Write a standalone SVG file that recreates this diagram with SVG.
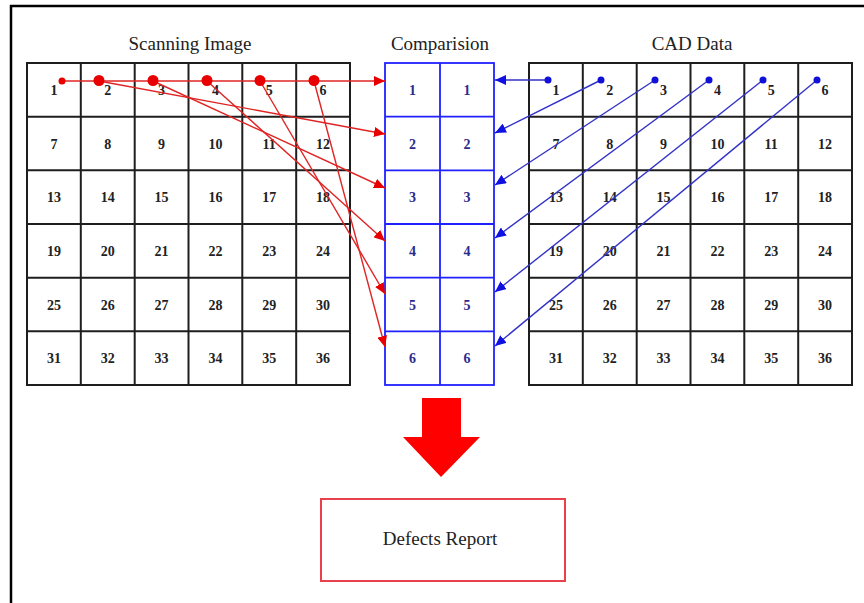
<svg xmlns="http://www.w3.org/2000/svg" width="864" height="603" viewBox="0 0 864 603">
  <style>
    .title { font-family: "Liberation Serif", "Times New Roman", serif; font-size: 19px; fill: #222; text-anchor: middle; }
    .num { font-family: "Liberation Serif", "Times New Roman", serif; font-size: 14px; font-weight: bold; fill: #222; text-anchor: middle; }
    .cnum { font-family: "Liberation Serif", "Times New Roman", serif; font-size: 14px; font-weight: bold; fill: #2b2b8c; text-anchor: middle; }
    .grid { fill: none; stroke: #1e1e1e; stroke-width: 2; }
    .cgrid { fill: none; stroke: #2020ff; stroke-width: 1.8; }
    .red { stroke: #e02424; stroke-width: 1.4; fill: none; }
    .blue { stroke: #3232c8; stroke-width: 1.4; fill: none; }
  </style>
  <defs>
    <marker id="ah-red" markerUnits="userSpaceOnUse" markerWidth="12" markerHeight="10" refX="11" refY="5" orient="auto">
      <path d="M0,0 L11,5 L0,10 Z" fill="#e80000"/>
    </marker>
    <marker id="ah-blue" markerUnits="userSpaceOnUse" markerWidth="12" markerHeight="10" refX="11" refY="5" orient="auto">
      <path d="M0,0 L11,5 L0,10 Z" fill="#1010e0"/>
    </marker>
  </defs>

  <rect width="864" height="603" fill="#ffffff"/>
  <!-- outer frame (top and left edges) -->
  <path d="M11,603 V6 H864" fill="none" stroke="#000" stroke-width="2.5"/>

  <!-- titles -->
  <text class="title" x="190" y="50">Scanning Image</text>
  <text class="title" x="440" y="50">Comparision</text>
  <text class="title" x="692" y="50">CAD Data</text>

  <!-- scanning image grid -->
  <g id="scanning-image">
    <rect class="grid" x="27" y="63" width="323" height="322"/>
    <path class="grid" d="M80.8,63 V385 M134.7,63 V385 M188.5,63 V385 M242.3,63 V385 M296.2,63 V385
                          M27,116.7 H350 M27,170.3 H350 M27,224 H350 M27,277.7 H350 M27,331.3 H350"/>
    <g class="num">
      <text x="53.9" y="94.8">1</text><text x="107.7" y="94.8">2</text><text x="161.6" y="94.8">3</text><text x="215.4" y="94.8">4</text><text x="269.2" y="94.8">5</text><text x="323.1" y="94.8">6</text>
      <text x="53.9" y="148.5">7</text><text x="107.7" y="148.5">8</text><text x="161.6" y="148.5">9</text><text x="215.4" y="148.5">10</text><text x="269.2" y="148.5">11</text><text x="323.1" y="148.5">12</text>
      <text x="53.9" y="202.2">13</text><text x="107.7" y="202.2">14</text><text x="161.6" y="202.2">15</text><text x="215.4" y="202.2">16</text><text x="269.2" y="202.2">17</text><text x="323.1" y="202.2">18</text>
      <text x="53.9" y="255.8">19</text><text x="107.7" y="255.8">20</text><text x="161.6" y="255.8">21</text><text x="215.4" y="255.8">22</text><text x="269.2" y="255.8">23</text><text x="323.1" y="255.8">24</text>
      <text x="53.9" y="309.5">25</text><text x="107.7" y="309.5">26</text><text x="161.6" y="309.5">27</text><text x="215.4" y="309.5">28</text><text x="269.2" y="309.5">29</text><text x="323.1" y="309.5">30</text>
      <text x="53.9" y="363.2">31</text><text x="107.7" y="363.2">32</text><text x="161.6" y="363.2">33</text><text x="215.4" y="363.2">34</text><text x="269.2" y="363.2">35</text><text x="323.1" y="363.2">36</text>
    </g>
  </g>

  <!-- comparison column -->
  <g id="comparison">
    <rect class="cgrid" x="385" y="63" width="109" height="322"/>
    <path class="cgrid" d="M440,63 V385 M385,116.7 H494 M385,170.3 H494 M385,224 H494 M385,277.7 H494 M385,331.3 H494"/>
    <g class="cnum">
      <text x="412.5" y="94.8">1</text><text x="467" y="94.8">1</text>
      <text x="412.5" y="148.5">2</text><text x="467" y="148.5">2</text>
      <text x="412.5" y="202.2">3</text><text x="467" y="202.2">3</text>
      <text x="412.5" y="255.8">4</text><text x="467" y="255.8">4</text>
      <text x="412.5" y="309.5">5</text><text x="467" y="309.5">5</text>
      <text x="412.5" y="363.2">6</text><text x="467" y="363.2">6</text>
    </g>
  </g>

  <!-- CAD data grid -->
  <g id="cad-data">
    <rect class="grid" x="529" y="63" width="323" height="322"/>
    <path class="grid" d="M582.8,63 V385 M636.7,63 V385 M690.5,63 V385 M744.3,63 V385 M798.2,63 V385
                          M529,116.7 H852 M529,170.3 H852 M529,224 H852 M529,277.7 H852 M529,331.3 H852"/>
    <g class="num">
      <text x="555.9" y="94.8">1</text><text x="609.7" y="94.8">2</text><text x="663.6" y="94.8">3</text><text x="717.4" y="94.8">4</text><text x="771.2" y="94.8">5</text><text x="825.1" y="94.8">6</text>
      <text x="555.9" y="148.5">7</text><text x="609.7" y="148.5">8</text><text x="663.6" y="148.5">9</text><text x="717.4" y="148.5">10</text><text x="771.2" y="148.5">11</text><text x="825.1" y="148.5">12</text>
      <text x="555.9" y="202.2">13</text><text x="609.7" y="202.2">14</text><text x="663.6" y="202.2">15</text><text x="717.4" y="202.2">16</text><text x="771.2" y="202.2">17</text><text x="825.1" y="202.2">18</text>
      <text x="555.9" y="255.8">19</text><text x="609.7" y="255.8">20</text><text x="663.6" y="255.8">21</text><text x="717.4" y="255.8">22</text><text x="771.2" y="255.8">23</text><text x="825.1" y="255.8">24</text>
      <text x="555.9" y="309.5">25</text><text x="609.7" y="309.5">26</text><text x="663.6" y="309.5">27</text><text x="717.4" y="309.5">28</text><text x="771.2" y="309.5">29</text><text x="825.1" y="309.5">30</text>
      <text x="555.9" y="363.2">31</text><text x="609.7" y="363.2">32</text><text x="663.6" y="363.2">33</text><text x="717.4" y="363.2">34</text><text x="771.2" y="363.2">35</text><text x="825.1" y="363.2">36</text>
    </g>
  </g>

  <!-- connectors: scanned cells and CAD cells into the comparison column -->
  <g id="connectors">
    <g class="red" marker-end="url(#ah-red)">
      <line x1="62" y1="81" x2="385" y2="81"/>
      <line x1="99" y1="81" x2="385" y2="134"/>
      <line x1="153" y1="81" x2="385" y2="188"/>
      <line x1="207" y1="81" x2="385" y2="241"/>
      <line x1="260" y1="81" x2="385" y2="294"/>
      <line x1="314" y1="81" x2="385" y2="347"/>
    </g>
    <g fill="#e80000">
      <circle cx="62" cy="81" r="3.5"/>
      <circle cx="99" cy="80.5" r="5.5"/>
      <circle cx="153" cy="80.5" r="5.5"/>
      <circle cx="207" cy="80.5" r="5.5"/>
      <circle cx="260" cy="80.5" r="5.5"/>
      <circle cx="314" cy="80.5" r="5.5"/>
    </g>
    <g class="blue" marker-end="url(#ah-blue)">
      <line x1="548" y1="80" x2="495" y2="80"/>
      <line x1="601" y1="80" x2="495" y2="133"/>
      <line x1="655" y1="80" x2="495" y2="185"/>
      <line x1="709" y1="80" x2="495" y2="238"/>
      <line x1="763" y1="80" x2="495" y2="292"/>
      <line x1="817" y1="80" x2="495" y2="346"/>
    </g>
    <g fill="#1010d8">
      <circle cx="548" cy="80" r="3.5"/>
      <circle cx="601" cy="80" r="3.5"/>
      <circle cx="655" cy="80" r="3.5"/>
      <circle cx="709" cy="80" r="3.5"/>
      <circle cx="763" cy="80" r="3.5"/>
      <circle cx="817" cy="80" r="3.5"/>
    </g>
  </g>

  <!-- block arrow down to the report -->
  <g id="result-arrow">
    <path d="M422,398 H461 V437 H480 L441,477 L403,437 H422 Z" fill="#ff0000"/>
  </g>

  <!-- defects report -->
  <g id="defects-report">
    <rect x="321" y="499" width="244" height="82" fill="#ffffff" stroke="#e8404c" stroke-width="2"/>
    <text class="title" x="440" y="545">Defects Report</text>
  </g>
</svg>
